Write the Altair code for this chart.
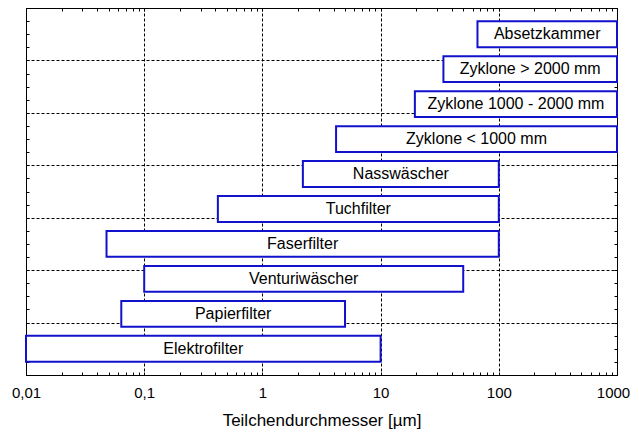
import altair as alt
import pandas as pd

methods = ["Absetzkammer", "Zyklone > 2000 mm", "Zyklone 1000 - 2000 mm", "Zyklone < 1000 mm",
           "Nasswäscher", "Tuchfilter", "Faserfilter", "Venturiwäscher", "Papierfilter", "Elektrofilter"]
size_min = [66, 34, 19.5, 4.2, 2.2, 0.42, 0.048, 0.1, 0.064, 0.01]
size_max = [1000, 1000, 1000, 1000, 100, 100, 100, 50, 5, 10]
x_ticks = [0.01, 0.1, 1, 10, 100, 1000]
x_minor = [m * 10 ** e for e in range(-2, 3) for m in range(1, 10)] + [1000]
y_grid = [0, 1.5, 3, 4.5, 6, 7.5, 9, 10.5]
y_minor = [i * 0.375 for i in range(29)]

n = len(methods)
df = pd.DataFrame({"method": methods, "lo": size_min, "hi": size_max,
                   "row": [n - 1 - i for i in range(n)]})

FONT = "Liberation Sans"
W, H = 591, 367
xscale = alt.Scale(type="log", domain=[0.01, 1000], nice=False)
yscale = alt.Scale(domain=[0, 10.5], nice=False, zero=False)

base = alt.Chart(df).transform_calculate(
    yc="datum.row + 0.75",
    y0="datum.row + 0.75 - 0.37",
    y1="datum.row + 0.75 + 0.37",
    xm="sqrt(datum.lo * datum.hi)",
)

bars = base.mark_rect(fill="white", stroke="#1212cc", strokeWidth=2).encode(
    x=alt.X("lo:Q", scale=xscale, axis=alt.Axis(
        orient="bottom", values=x_ticks,
        labelExpr="replace(toString(datum.value), '.', ',')",
        grid=True, gridColor="black", gridDash=[3, 2], gridWidth=1, gridOpacity=1,
        ticks=False, domain=True, domainColor="black",
        labelFontSize=15, labelColor="black", labelFont=FONT, labelPadding=10,
        labelFlush=False, labelOverlap=False,
        labelOffset=alt.ConditionalAxisNumber(
            condition={"test": "datum.value >= 1000", "value": -4}, value=0),
        title="Teilchendurchmesser [µm]", titleFontSize=17, titleFontWeight="normal",
        titleColor="black", titleFont=FONT, titlePadding=12)),
    x2="hi:Q",
    y=alt.Y("y0:Q", scale=yscale, axis=alt.Axis(
        orient="left", values=y_grid, grid=True, gridColor="black", gridDash=[3, 2],
        gridWidth=1, gridOpacity=1, labels=False, ticks=False, domain=True,
        domainColor="black", title=None)),
    y2="y1:Q",
)

tick_style = dict(labels=False, grid=False, domain=False, ticks=True, tickColor="black",
                  tickSize=3, tickWidth=1, title=None, offset=-3)

texts = base.mark_text(fontSize=16, font=FONT, color="black").encode(
    x=alt.X("xm:Q", scale=xscale, axis=alt.Axis(orient="bottom", values=x_minor, **tick_style)),
    y=alt.Y("yc:Q", scale=yscale, axis=alt.Axis(orient="left", values=y_minor, **tick_style)),
    text="method:N",
)

hidden = base.mark_point(opacity=0).encode(
    x=alt.X("xm:Q", scale=xscale, axis=alt.Axis(orient="top", values=x_minor, **tick_style)),
    y=alt.Y("yc:Q", scale=yscale, axis=alt.Axis(orient="right", values=y_minor, **tick_style)),
)

chart = alt.layer(bars, texts, hidden).resolve_axis(
    x="independent", y="independent"
).properties(
    width=W, height=H,
    autosize=alt.AutoSizeParams(type="none"),
    padding={"left": 18, "top": 0, "right": 14, "bottom": 54},
).configure_view(stroke="black", strokeWidth=1)

chart.save("out.html", embed_options={"renderer": "svg", "actions": False})
